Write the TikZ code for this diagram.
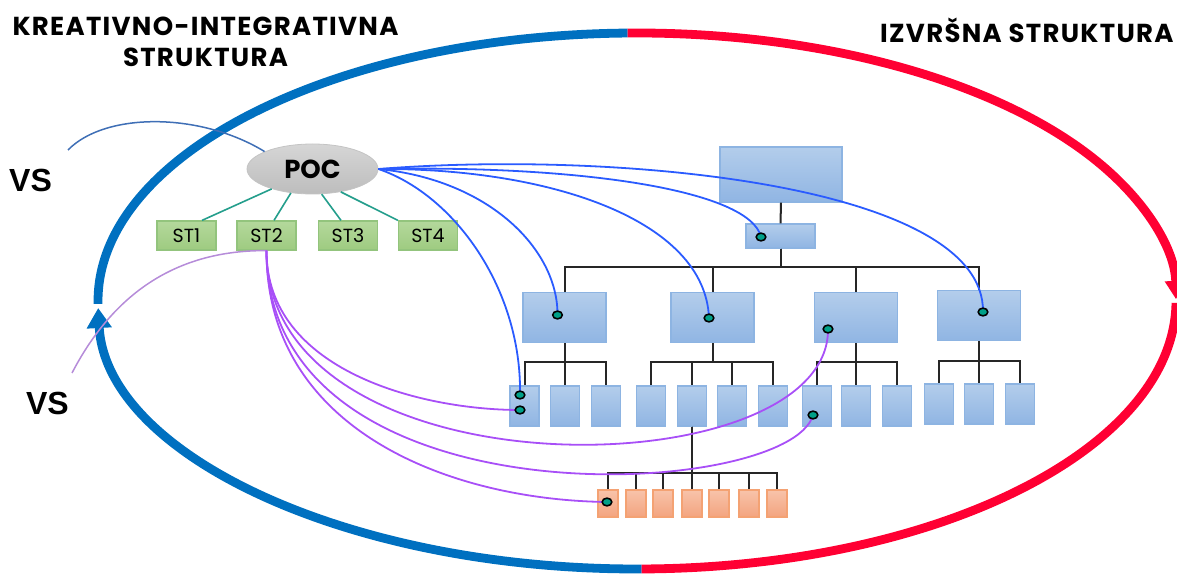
\documentclass[tikz,border=0pt]{standalone}
\usepackage{fontspec}
\setmainfont{Poppins}
\newfontfamily\vsfont{Liberation Sans}
\newfontfamily\headfont[LetterSpace=5]{Poppins}
\usetikzlibrary{arrows.meta,shapes.geometric}
\definecolor{ringBlue}{HTML}{0070C0}
\definecolor{ringRed}{HTML}{FF0033}
\definecolor{boxTop}{HTML}{B3CDEB}
\definecolor{boxBot}{HTML}{90B5E3}
\definecolor{boxEdge}{HTML}{8DB4E2}
\definecolor{orgTop}{HTML}{F8C3AA}
\definecolor{orgBot}{HTML}{F3A47F}
\definecolor{orgEdge}{HTML}{F4A273}
\definecolor{stTop}{HTML}{B4D89C}
\definecolor{stBot}{HTML}{9ECB80}
\definecolor{stEdge}{HTML}{93C47D}
\definecolor{pocTop}{HTML}{D6D6D6}
\definecolor{pocBot}{HTML}{BDBDBD}
\definecolor{pocEdge}{HTML}{C4C4C4}
\definecolor{stLine}{HTML}{249E8C}
\definecolor{linkBlue}{HTML}{2A5BFF}
\definecolor{linkPurple}{HTML}{A84FF7}
\definecolor{vsBlue}{HTML}{3F6FB6}
\definecolor{vsPurple}{HTML}{B68CD9}
\definecolor{pinCol}{HTML}{00A088}
\tikzset{
  orgbox/.style={draw=boxEdge, top color=boxTop, bottom color=boxBot, line width=0.6pt, inner sep=0pt},
  leafbox/.style={orgbox, minimum width=14.5pt, minimum height=20pt},
  midbox/.style={orgbox, minimum width=41.5pt, minimum height=25pt},
  orngbox/.style={draw=orgEdge, top color=orgTop, bottom color=orgBot, line width=0.6pt,
                  inner sep=0pt, minimum width=10pt, minimum height=13.5pt},
  stbox/.style={draw=stEdge, top color=stTop, bottom color=stBot, line width=0.6pt, inner sep=0pt,
                minimum width=29.5pt, minimum height=14.5pt, font=\fontsize{9.5}{11}\selectfont},
  pocnode/.style={ellipse, draw=pocEdge, top color=pocTop, bottom color=pocBot, inner sep=0pt,
                  minimum width=65.5pt, minimum height=25pt, font=\bfseries\fontsize{13}{15}\selectfont},
  orgline/.style={line width=1pt, black!85},
  stline/.style={line width=0.8pt, stLine},
  blink/.style={line width=0.9pt, linkBlue},      % POC -> executive units
  plink/.style={line width=0.9pt, linkPurple},    % ST2 -> executive units
  vsline/.style={line width=0.75pt},
  pinnode/.style={ellipse, draw=black, fill=pinCol, line width=0.8pt, inner sep=0pt,
                  minimum width=4.8pt, minimum height=3.9pt},
  ring/.style={line width=4.4pt},
  ringarc/.style={x radius=269.5pt, y radius=134pt},
  headtxt/.style={font=\headfont\bfseries\fontsize{13}{15.5}\selectfont, align=center},
  vstxt/.style={font=\vsfont\bfseries\fontsize{16}{19}\selectfont, inner sep=0pt},
}
\newcommand{\pin}[1]{\node[pinnode] (d#1) at (p#1) {};}

\begin{document}
\begin{tikzpicture}[x=0.5pt,y=0.5pt]
  \useasboundingbox (0,0) rectangle (1177,573);

  % outer ring
  \coordinate (ctr) at (637,272);
  \draw[ring, ringBlue] (ctr) ++(91:269.5pt and 134pt)
    arc[ringarc, start angle=91, end angle=180.6];
  \draw[ring, ringBlue, -{Triangle[length=10pt,width=12pt]}] (ctr) ++(270.5:269.5pt and 134pt)
    arc[ringarc, start angle=270.5, end angle=181.5];
  \draw[ring, ringRed, -{Triangle[length=9pt,width=10.5pt]}] (ctr) ++(91:269.5pt and 134pt)
    arc[ringarc, start angle=91, end angle=0.4];
  \draw[ring, ringRed] (ctr) ++(-0.4:269.5pt and 134pt)
    arc[ringarc, start angle=-0.4, end angle=-89.5];

  \node[headtxt] (kis) at (205.5,531.5) {KREATIVNO-INTEGRATIVNA\\STRUKTURA};
  \node[headtxt, anchor=base east, inner sep=0pt] (izs) at (1174,530) {IZVRŠNA STRUKTURA};
  \node[vstxt] (vsTop) at (30.5,393) {VS};
  \node[vstxt] (vsBot) at (47.5,170) {VS};

  % creative-integrative part
  \node[pocnode] (poc) at (312.5,404) {POC};
  \foreach \x [count=\i] in {186.5,266.5,348,428}
    \node[stbox] (st\i) at (\x,337.5) {ST\i};
  \draw[stline] (poc.-154) -- ([xshift=7.75pt]st1.north);
  \draw[stline] (poc.-132) -- ([xshift=3.75pt]st2.north);
  \draw[stline] (poc.-70) -- ([xshift=-3.5pt]st3.north);
  \draw[stline] (poc.-39) -- (st4.north west);

  \coordinate (vsA) at (68,423);
  \coordinate (vsB) at (72,200);
  \draw[vsline, vsBlue] (vsA) .. controls (105,461) and (200,461) .. (poc.160);
  \draw[vsline, vsPurple] (vsB) .. controls (110,273) and (170,323) .. (st2.south);

  % executive structure
  \node[orgbox, minimum width=61pt, minimum height=27.5pt] (top) at (781,398.5) {};
  \node[orgbox, minimum width=34.5pt, minimum height=12pt] (sub) at (780.5,337) {};
  \foreach \x/\n in {564.5/A,712.5/B,856/C}
    \node[midbox] (m\n) at (\x,255.5) {};
  \node[midbox] (mD) at (979,257.5) {};
  \foreach \x [count=\i] in {524.5,565,606} \node[leafbox] (a\i) at (\x,167) {};
  \foreach \x [count=\i] in {651,692,732,773} \node[leafbox] (b\i) at (\x,167) {};
  \foreach \x [count=\i] in {817,856,897} \node[leafbox] (c\i) at (\x,167) {};
  \foreach \x [count=\i] in {939,979,1020} \node[leafbox] (e\i) at (\x,169) {};
  \foreach \x [count=\i] in {608,636,663,692,719,749,777} \node[orngbox] (o\i) at (\x,69.5) {};

  \draw[orgline] (top.south) -- (sub.north);
  \foreach \n in {A,B,C,D}
    \draw[orgline] (sub.south) -- (sub.south|-0,305.5) -| (m\n.north);
  \foreach \i in {1,2,3} \draw[orgline] (mA.south) -- (mA.south|-0,210.5) -| (a\i.north);
  \foreach \i in {1,...,4} \draw[orgline] (mB.south) -- (mB.south|-0,210.5) -| (b\i.north);
  \foreach \i in {1,2,3} \draw[orgline] (mC.south) -- (mC.south|-0,210.5) -| (c\i.north);
  \foreach \i in {1,2,3} \draw[orgline] (mD.south) -- (mD.south|-0,212) -| (e\i.north);
  \foreach \i in {1,...,7} \draw[orgline] (b2.south) -- (b2.south|-0,100) -| (o\i.north);

  % links
  \coordinate (pS) at (761,336);
  \coordinate (pA) at (557.5,258);
  \coordinate (pB) at (709,255);
  \coordinate (pC) at (828,244);
  \coordinate (pD) at (983,261);
  \coordinate (pAa) at (520,178);
  \coordinate (pAb) at (520,163);
  \coordinate (pCa) at (813,158);
  \coordinate (pO) at (607,71);

  \draw[blink] (poc.east) .. controls (455,378) and (522,283) .. (pAa);
  \draw[blink] (poc.east) .. controls (490,393) and (558,323) .. (pA);
  \draw[blink] (poc.east) .. controls (550,405) and (705,353) .. (pB);
  \draw[blink] (poc.east) .. controls (580,408) and (750,383) .. (pS);
  \draw[blink] (poc.east) .. controls (620,423) and (985,388) .. (pD);

  \draw[plink] (st2.south) .. controls (266,203) and (420,163) .. (pAb);
  \draw[plink] (st2.south) .. controls (266,73) and (830,83) .. (pC);
  \draw[plink] (st2.south) .. controls (266,43) and (790,73) .. (pCa);
  \draw[plink] (st2.south) .. controls (266,143) and (450,73) .. (pO);

  \pin{S}\pin{A}\pin{B}\pin{C}\pin{D}\pin{Aa}\pin{Ab}\pin{Ca}\pin{O}
\end{tikzpicture}
\end{document}
